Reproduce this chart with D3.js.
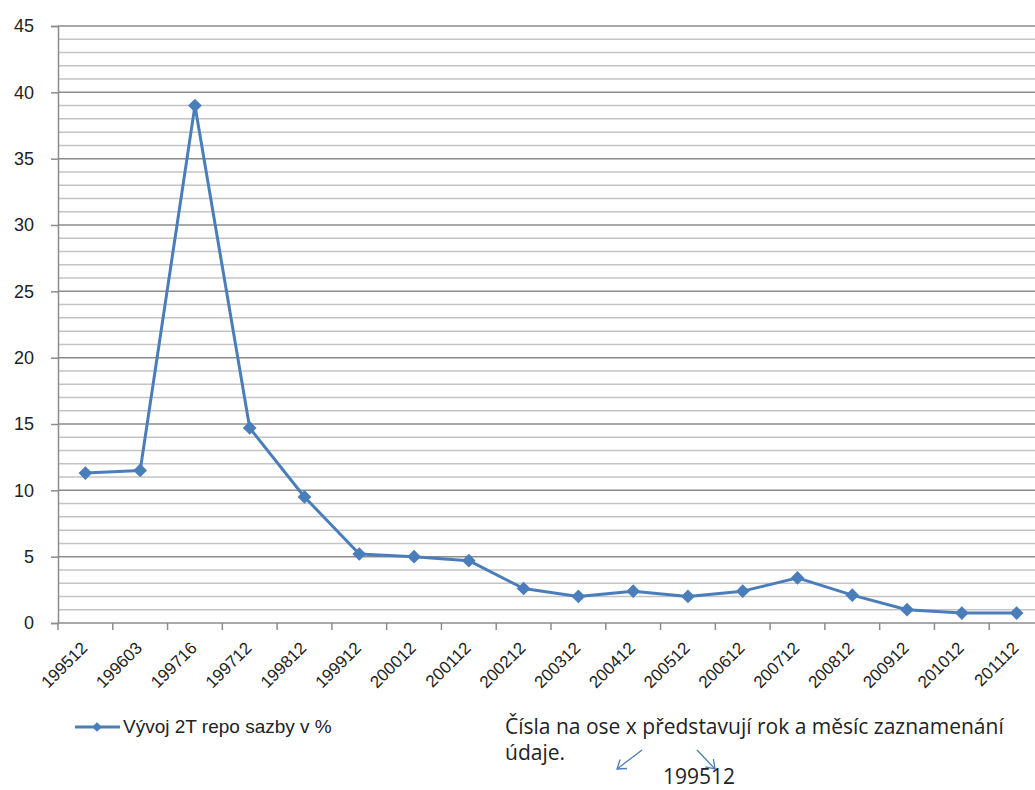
<!DOCTYPE html>
<html>
<head>
<meta charset="utf-8">
<script src="https://cdn.jsdelivr.net/npm/d3@7"></script>
<style>
  html, body { margin: 0; padding: 0; background: #fff; }
  svg { display: block; font-family: "Open Sans", "Liberation Sans", sans-serif; }
</style>
</head>
<body>
<svg id="chart" width="1035" height="790"></svg>
<script>
// Období (rok + měsíc) a 2T repo sazba ČNB v %
const periods = ["199512","199603","199716","199712","199812","199912","200012","200112",
  "200212","200312","200412","200512","200612","200712","200812","200912","201012","201112"];
const repoRate = [11.3, 11.5, 39, 14.7, 9.5, 5.2, 5.0, 4.7, 2.6, 2.0, 2.4, 2.0, 2.4, 3.4, 2.1, 1.0, 0.75, 0.75];
const yTicks = [0, 5, 10, 15, 20, 25, 30, 35, 40, 45];
const seriesName = "Vývoj 2T repo sazby v %";
const noteLines = ["Čísla na ose x představují rok a měsíc zaznamenání", "údaje."];
const noteExample = "199512";

const svg = d3.select("#chart");
const plotLeft = 58, plotTop = 26, plotBottom = 623, plotRight = 1044;
const blue = "#4a7ebb";
const axisGrey = "#8c8c8c";

const x = d3.scaleBand().domain(periods).range([plotLeft, plotRight]).paddingInner(0).paddingOuter(0);
const y = d3.scaleLinear().domain([0, 45]).range([plotBottom, plotTop]);

// Minor gridlines every 1 %, major every 5 %
const minor = d3.range(1, 45).filter(v => v % 5 !== 0);
svg.append("g").selectAll("line").data(minor).join("line")
  .attr("x1", plotLeft).attr("x2", 1035)
  .attr("y1", d => y(d)).attr("y2", d => y(d))
  .attr("stroke", "#c4c4c4").attr("stroke-width", 1.5);

svg.append("g").selectAll("line").data(yTicks.filter(v => v > 0)).join("line")
  .attr("x1", plotLeft).attr("x2", 1035)
  .attr("y1", d => y(d)).attr("y2", d => y(d))
  .attr("stroke", axisGrey).attr("stroke-width", 1.5);

// Y axis
const yAxis = svg.append("g").attr("transform", `translate(${plotLeft},0)`)
  .call(d3.axisLeft(y).tickValues(yTicks).tickSize(7).tickPadding(17));
yAxis.select(".domain").attr("stroke", axisGrey).attr("stroke-width", 1.5);
yAxis.selectAll(".tick line").attr("stroke", axisGrey).attr("stroke-width", 1.5);
yAxis.selectAll(".tick text").attr("font-size", 18).attr("fill", "#222")
  .attr("font-family", "'Liberation Sans', sans-serif");

// X axis: ticks at category boundaries, rotated labels under category centres
const xAxis = svg.append("g").attr("transform", `translate(0,${plotBottom})`);
xAxis.append("line").attr("x1", plotLeft).attr("x2", 1035).attr("y1", 0).attr("y2", 0)
  .attr("stroke", axisGrey).attr("stroke-width", 1.5);
xAxis.selectAll("line.tk").data(periods).join("line").attr("class", "tk")
  .attr("x1", d => x(d)).attr("x2", d => x(d)).attr("y1", 0).attr("y2", 7)
  .attr("stroke", axisGrey).attr("stroke-width", 1.5);
xAxis.selectAll("text").data(periods).join("text")
  .attr("transform", d => `translate(${x(d) + x.bandwidth() / 2 + 3},${26}) rotate(-45)`)
  .attr("text-anchor", "end")
  .attr("font-size", 17).attr("fill", "#222")
  .attr("font-family", "'Liberation Sans', sans-serif")
  .text(d => d);

// Series line + diamond markers
const cx = d => x(d) + x.bandwidth() / 2;
const line = d3.line().x((d, i) => cx(periods[i])).y(d => y(d));
svg.append("path").datum(repoRate)
  .attr("d", line).attr("fill", "none")
  .attr("stroke", blue).attr("stroke-width", 3).attr("stroke-linejoin", "round");

const diamond = d3.symbol().type(d3.symbolDiamond2).size(120);
svg.append("g").selectAll("path").data(repoRate).join("path")
  .attr("transform", (d, i) => `translate(${cx(periods[i])},${y(d)})`)
  .attr("d", diamond).attr("fill", blue);

// Legend
const lg = svg.append("g").attr("transform", "translate(75,727)");
lg.append("line").attr("x1", 0).attr("x2", 45).attr("stroke", blue).attr("stroke-width", 3);
lg.append("path").attr("transform", "translate(22,0)")
  .attr("d", d3.symbol().type(d3.symbolDiamond2).size(60)).attr("fill", blue);
lg.append("text").attr("x", 48).attr("y", 6).attr("font-size", 19).attr("fill", "#222")
  .attr("font-family", "'Liberation Sans', sans-serif")
  .text(seriesName);

// Note explaining the x-axis labels
const note = svg.append("g").attr("font-size", 21).attr("fill", "#222")
  .attr("font-family", "'Open Sans', sans-serif");
note.selectAll("text.ln").data(noteLines).join("text").attr("class", "ln")
  .attr("x", 505).attr("y", (d, i) => 734 + i * 26).text(d => d);
note.append("text").attr("x", 663).attr("y", 784).text(noteExample);

const arrows = [[[642, 750], [617, 769]], [[697, 750], [715, 769]]];
const ag = svg.append("g").attr("stroke", blue).attr("stroke-width", 1.3).attr("fill", "none");
arrows.forEach(([a, b]) => {
  ag.append("line").attr("x1", a[0]).attr("y1", a[1]).attr("x2", b[0]).attr("y2", b[1]);
  const ang = Math.atan2(b[1] - a[1], b[0] - a[0]);
  const h = 10, spread = 0.6;
  const p1 = [b[0] - h * Math.cos(ang - spread), b[1] - h * Math.sin(ang - spread)];
  const p2 = [b[0] - h * Math.cos(ang + spread), b[1] - h * Math.sin(ang + spread)];
  ag.append("path").attr("d", `M${p1[0]},${p1[1]}L${b[0]},${b[1]}L${p2[0]},${p2[1]}`);
});
</script>
</body>
</html>
